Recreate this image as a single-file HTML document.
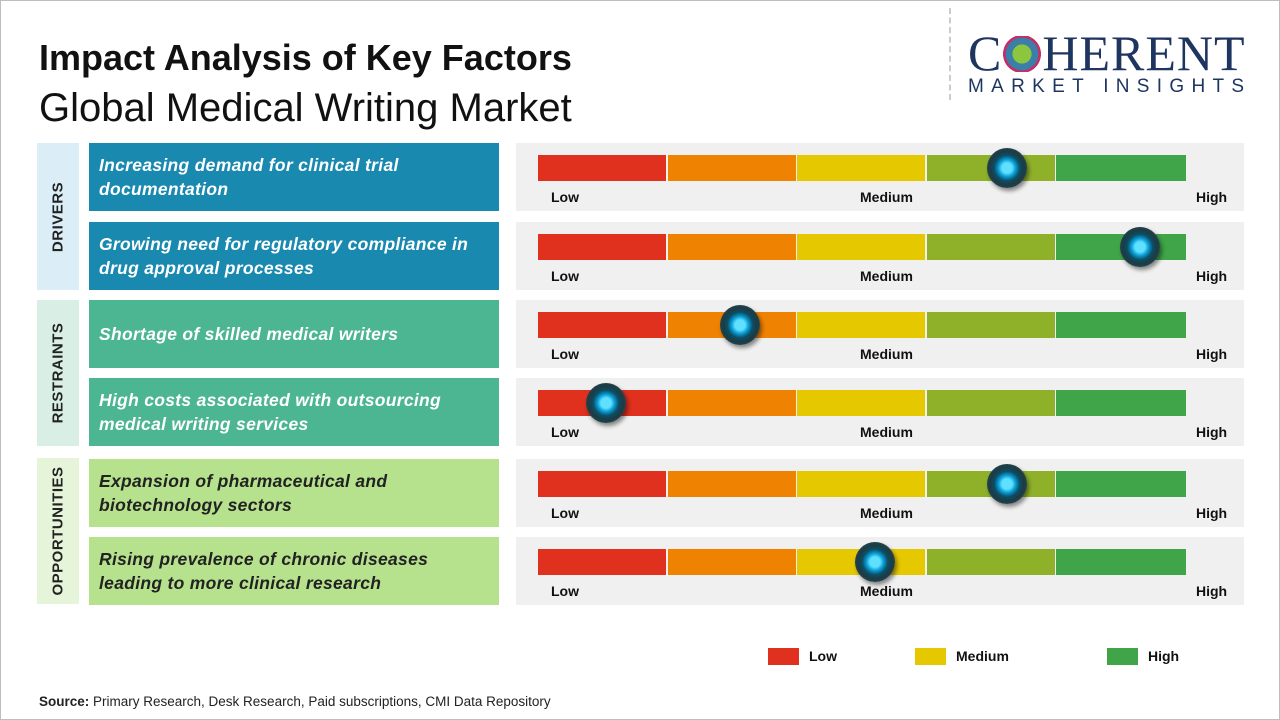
<!DOCTYPE html>
<html><head><meta charset="utf-8">
<style>
body{margin:0;width:1280px;height:720px;background:#fff;font-family:"Liberation Sans",sans-serif;overflow:hidden;position:relative}
.frame{position:absolute;left:0;top:0;width:1278px;height:718px;border:1px solid #bdbdbd}
.abs{position:absolute}
h1{position:absolute;left:39px;top:37px;margin:0;font-size:36px;font-weight:bold;color:#111;letter-spacing:0px}
h2{position:absolute;left:39px;top:86px;margin:0;font-size:40px;font-weight:normal;color:#111}
.cat{position:absolute;left:37px;width:42px}
.cat span{position:absolute;left:50%;top:50%;transform:translate(-50%,-50%) rotate(-90deg);font-weight:bold;font-size:15px;color:#222;white-space:nowrap;letter-spacing:0.5px}
.lbl{position:absolute;left:89px;width:410px;box-sizing:border-box;padding:0 10px;display:flex;align-items:center;font-style:italic;font-weight:bold;font-size:17.5px;line-height:24px;letter-spacing:0.3px}
.panel{position:absolute;left:516px;width:728px;background:#f0f0f0}
.tick{position:absolute;font-size:14px;font-weight:bold;color:#111}
</style></head><body>
<div class="frame"></div>
<h1>Impact Analysis of Key Factors</h1>
<h2>Global Medical Writing Market</h2>
<div class="abs" style="left:949px;top:8px;height:92px;border-left:2px dashed #ccc"></div>
<div class="abs" style="left:968px;top:28px;width:295px">
 <div style="font-family:'Liberation Serif',serif;font-size:50px;color:#1e3560;line-height:50px;letter-spacing:1px">C<span style="display:inline-block;width:40px;height:36px;vertical-align:-2px;background:radial-gradient(circle,#8cc63f 0 35%,#3a7fa8 36% 60%,#c0306a 61% 70%,transparent 71%)"></span>HERENT</div>
 <div style="font-size:19px;color:#1e3560;letter-spacing:7.3px;margin-top:-2px">MARKET INSIGHTS</div>
</div>
<div id="chart"></div>
<div class="abs" style="left:0;top:0">
 <div class="abs" style="left:768px;top:648px;width:31px;height:17px;background:#e0301e"></div>
 <div class="tick" style="left:809px;top:648px">Low</div>
 <div class="abs" style="left:915px;top:648px;width:31px;height:17px;background:#e6c800"></div>
 <div class="tick" style="left:956px;top:648px">Medium</div>
 <div class="abs" style="left:1107px;top:648px;width:31px;height:17px;background:#3fa548"></div>
 <div class="tick" style="left:1148px;top:648px">High</div>
</div>
<div class="abs" style="left:39px;top:694px;font-size:13.5px;color:#222"><b>Source:</b> Primary Research, Desk Research, Paid subscriptions, CMI Data Repository</div>
<script>
const factors=["Increasing demand for clinical trial documentation","Growing need for regulatory compliance in drug approval processes","Shortage of skilled medical writers","High costs associated with outsourcing medical writing services","Expansion of pharmaceutical and biotechnology sectors","Rising prevalence of chronic diseases leading to more clinical research"];
const impact=[0.724,0.929,0.312,0.105,0.724,0.52];
const categories=["DRIVERS","RESTRAINTS","OPPORTUNITIES"];
const segColors=["#e0301e","#ef8200","#e6c800","#8fb12a","#3fa548"];
const rowTop=[143,222,300,378,459,537];
const rowH=68;
const catSpans=[[143,290,"#dbeef8"],[300,446,"#d9efe6"],[458,604,"#e6f5d9"]];
const lblColors=["#1a89b0","#1a89b0","#4cb592","#4cb592","#b6e28e","#b6e28e"];
const lblText=["#fff","#fff","#fff","#fff","#222","#222"];
const barX=538,barW=648;
const xScale=v=>barX+v*barW;
const root=document.getElementById('chart');
categories.forEach((c,i)=>{
 const d=document.createElement('div');d.className='cat';
 
 
 d.style.top=catSpans[i][0]+'px';d.style.height=(catSpans[i][1]-catSpans[i][0])+'px';d.style.background=catSpans[i][2];
 d.innerHTML='<span>'+c+'</span>';root.appendChild(d);
});
factors.forEach((f,i)=>{
 const y=rowTop[i];
 const l=document.createElement('div');l.className='lbl';
 
 
 l.style.top=y+'px';l.style.height=rowH+'px';l.style.background=lblColors[i];l.style.color=lblText[i];
 l.textContent=f;root.appendChild(l);
 const p=document.createElement('div');p.className='panel';
 
 
 p.style.top=y+'px';p.style.height=rowH+'px';root.appendChild(p);
 segColors.forEach((c,k)=>{
  const s=document.createElement('div');s.className='abs';
  
  
  s.style.cssText=`left:${barX+k*barW/5}px;top:${y+12}px;width:${barW/5-(k<4?1.5:0)}px;height:26px;background:${c}`;
  root.appendChild(s);
 });
 [["Low",551],["Medium",860],["High",1196]].forEach(t=>{
  const e=document.createElement('div');e.className='tick';
  
  
  e.style.left=t[1]+'px';e.style.top=(y+46)+'px';e.textContent=t[0];root.appendChild(e);
 });
 const k=document.createElement('div');k.className='abs';
 
 
 const cx=xScale(impact[i]);
 k.style.cssText=`left:${cx-20}px;top:${y+5}px;width:40px;height:40px;border-radius:50%;background:radial-gradient(circle at 50% 50%,#5fe0ff 0 18%,#0a9fd8 30%,#0b4f66 45%,#1c3b44 60%,#34555e 100%);box-shadow:2px 3px 4px rgba(0,0,0,0.45)`;
 root.appendChild(k);
});
</script>
</body></html>
